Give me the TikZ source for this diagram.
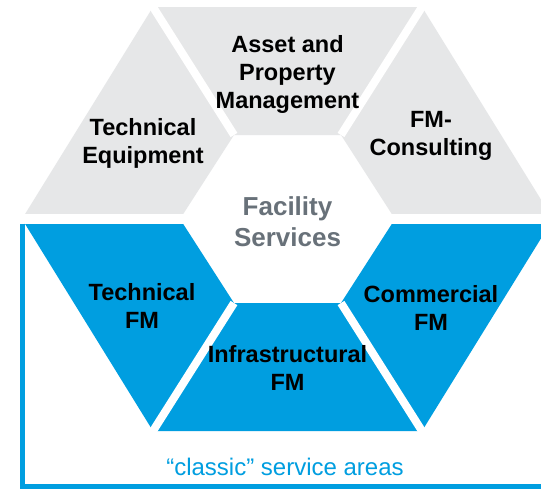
\documentclass[tikz,border=0pt]{standalone}
\usepackage{fontspec}
\setmainfont{Liberation Sans}
\usetikzlibrary{calc}
\definecolor{fmgray}{RGB}{230,231,232}
\definecolor{fmblue}{RGB}{0,158,224}
\definecolor{fmtext}{RGB}{104,113,121}
\begin{document}
\begin{tikzpicture}[x=1pt,y=-1pt,
  greypiece/.style={fill=fmgray},
  bluepiece/.style={fill=fmblue},
  gapline/.style={draw=white, line width=8pt},
  hgap/.style={draw=white, line width=10pt},
  frameline/.style={draw=fmblue, line width=5pt},
  lbl/.style={font=\fontsize{23.5}{28}\selectfont\bfseries, align=center, inner sep=0pt, text=black},
  centrelbl/.style={font=\fontsize{26}{31}\selectfont\bfseries, align=center, inner sep=0pt, text=fmtext},
  notelbl/.style={font=\fontsize{24}{28}\selectfont, inner sep=0pt, text=fmblue}]
\clip (0,0) rectangle (541,488);
\fill[white] (0,0) rectangle (541,488);
% outer hexagon
\coordinate (oTL) at (153,7);
\coordinate (oTR) at (422,7);
\coordinate (oL) at (22,219);
\coordinate (oR) at (553,219);
\coordinate (oBL) at (153,431);
\coordinate (oBR) at (422,431);
% inner hexagon
\coordinate (iTL) at (234,135);
\coordinate (iTR) at (341,135);
\coordinate (iL) at (180,219);
\coordinate (iR) at (395,219);
\coordinate (iBL) at (234,303);
\coordinate (iBR) at (341,303);
% pieces
\fill[greypiece] (oTL) -- (oTR) -- (iTR) -- (iTL) -- cycle;
\fill[greypiece] (oTL) -- (iTL) -- (iL) -- (oL) -- cycle;
\fill[greypiece] (oTR) -- (oR) -- (iR) -- (iTR) -- cycle;
\fill[bluepiece] (oL) -- (iL) -- (iBL) -- (oBL) -- cycle;
\fill[bluepiece] (iBL) -- (iBR) -- (oBR) -- (oBL) -- cycle;
\fill[bluepiece] (iR) -- (oR) -- (oBR) -- (iBR) -- cycle;
% gaps
\draw[gapline] (iTL) -- ($(iTL)!1.08!(oTL)$);
\draw[gapline] (iTR) -- ($(iTR)!1.08!(oTR)$);
\draw[gapline] (iBL) -- ($(iBL)!1.08!(oBL)$);
\draw[gapline] (iBR) -- ($(iBR)!1.08!(oBR)$);
\draw[hgap] (oL) -- (oR);
% frame of the classic service areas
\coordinate (fTL) at (22,223.5);
\coordinate (fBL) at (22,486.5);
\coordinate (fBR) at (580,486.5);
\coordinate (fTR) at (580,223.5);
\draw[frameline] (fTL) -- (fBL) -- (fBR) -- (fTR);
% labels
\node[lbl] (asset) at (287.5,74) {Asset and\\Property\\Management};
\node[lbl] (techeq) at (143,143) {Technical\\Equipment};
\node[lbl] (consult) at (431,136) {FM-\\Consulting};
\node[centrelbl] (facility) at (287.5,221.5) {Facility\\Services};
\node[lbl] (techfm) at (142,306) {Technical\\FM};
\node[lbl] (commfm) at (431,308) {Commercial\\FM};
\node[lbl] (infrafm) at (287.5,368) {Infrastructural\\FM};
\node[notelbl] (classic) at (285,467) {“classic” service areas};
\end{tikzpicture}
\end{document}
